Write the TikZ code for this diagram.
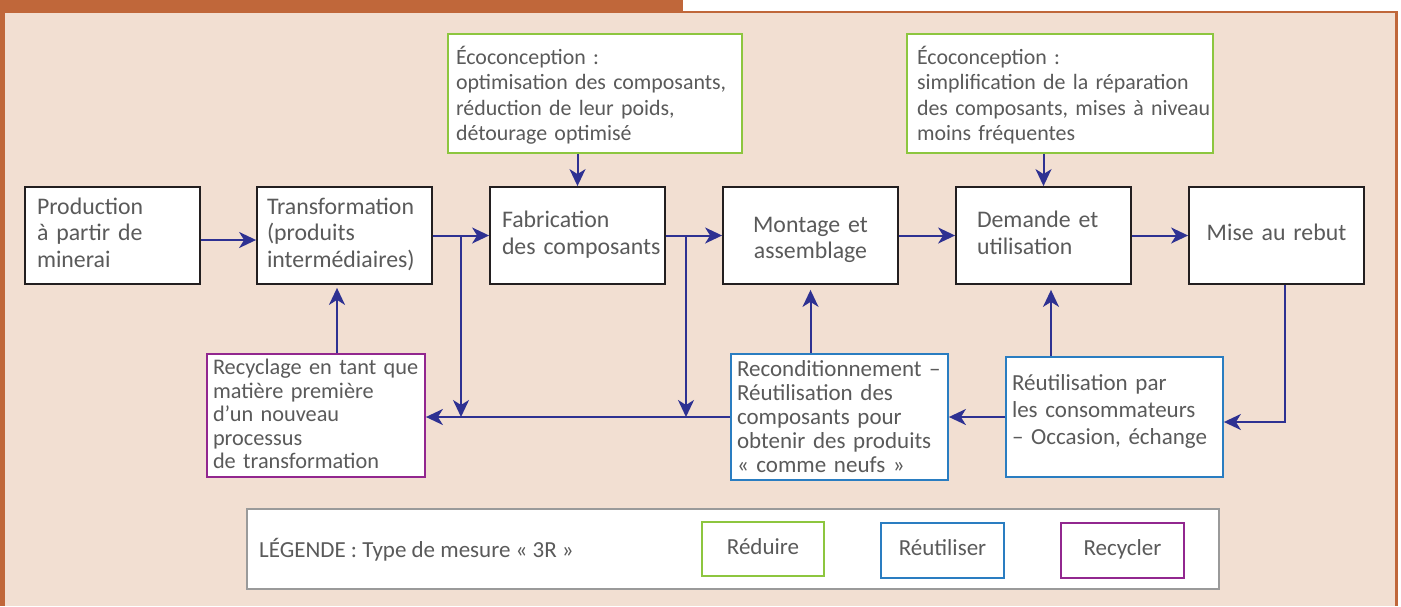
\documentclass[tikz,border=0pt]{standalone}
\usepackage{fontspec}
\setmainfont{Carlito}
\usetikzlibrary{arrows.meta,calc}
\definecolor{peach}{HTML}{F2DFD2}
\definecolor{orangeC}{HTML}{C0673A}
\definecolor{boxk}{HTML}{231F20}
\definecolor{txt}{HTML}{5A5A5A}
\definecolor{arrc}{HTML}{2E3192}
\definecolor{grn}{HTML}{8DC63F}
\definecolor{blu}{HTML}{2A7DC1}
\definecolor{pur}{HTML}{92278F}
\definecolor{legG}{HTML}{9A9A9A}
\newcommand\fT{\fontsize{23.8}{26.5}\selectfont}
\newcommand\fG{\fontsize{21.9}{25.3}\selectfont}
\newcommand\fB{\fontsize{22.3}{23.5}\selectfont}
\newcommand\fR{\fontsize{23}{24}\selectfont}
\newcommand\fU{\fontsize{23}{27}\selectfont}
\newcommand\fL{\fontsize{23}{26.5}\selectfont}
\newcommand\hs[1]{\rule{0pt}{#1}}
\newcommand\ds[1]{\rule[-#1]{0pt}{0pt}}
\begin{document}
\begin{tikzpicture}[x=1pt,y=-1pt,
  execute at begin node={\hyphenpenalty=10000\exhyphenpenalty=10000\hbadness=10000\hfuzz=100pt\relax},
  box/.style={draw=boxk, line width=1.8pt, fill=white, text=txt, inner ysep=0pt, align=left},
  rowbox/.style={box, minimum height=97pt, font=\fT},
  greenbox/.style={box, draw=grn, minimum height=119pt, font=\fG},
  bluebox/.style={box, draw=blu, minimum height=120pt},
  purbox/.style={box, draw=pur, minimum height=123pt, font=\fB},
  lbox/.style={draw, line width=1.3pt, fill=white, text=txt, font=\fL, minimum height=54pt, minimum width=122pt, inner sep=0pt},
  arr/.style={draw=arrc, line width=2pt, -{Stealth[length=17pt,width=16pt,inset=5pt]}}]
\useasboundingbox (0,0) rectangle (1401,606);
% frame
\fill[peach] (0,12) rectangle (1397,606);
\fill[orangeC] (0,0) rectangle (683,12);
\fill[orangeC] (0,11) rectangle (1397.5,13.3);
\fill[orangeC] (0,0) rectangle (4.7,606);
\fill[orangeC] (1395,11) rectangle (1397.5,606);
% main row
\node[rowbox, inner xsep=12pt, text width=151pt] (prod) at (112.5,235.5) {\strut Production\\à partir de\\minerai\strut};
\node[rowbox, inner xsep=10pt, text width=155pt] (trans) at (344.5,235.5) {\strut Transformation\\(produits\\intermédiaires)\strut};
\node[rowbox, inner xsep=12pt, text width=151pt] (fab) at (577.5,235.5) {\strut Fabrication\\des~composants\strut};
\node[rowbox, inner xsep=4pt, text width=167pt, align=center] (mont) at (810.5,235.5) {\hs{27.55pt}Montage et\\assemblage\strut};
\node[rowbox, inner xsep=21pt, text width=133pt] (dem) at (1043.5,235.5) {\strut Demande et\\utilisation\strut};
\node[rowbox, inner xsep=4pt, text width=167pt, align=center] (mise) at (1276.5,235.5) {\strut Mise au rebut\strut};
% green boxes
\node[greenbox, inner xsep=8pt, text width=278pt] (eco1) at (595,93.5) {\hs{25.5pt}Écoconception :\\optimisation~des~composants,\\réduction~de~leur~poids,\\détourage~optimisé\strut};
\node[greenbox, inner xsep=10pt, text width=286pt] (eco2) at (1060,93.5) {\hs{25.5pt}Écoconception~:\\simplification~de~la~réparation\\des~composants,~mises~à~niveau\\moins~fréquentes\strut};
% lower boxes
\node[purbox, inner xsep=6pt, text width=206pt] (recy) at (316,415.5) {\hs{20pt}Recyclage~en~tant~que\\matière~première\\d’un~nouveau\\processus\\de~transformation\strut};
\node[bluebox, font=\fR, inner xsep=6pt, text width=205pt] (recond) at (839.5,417) {\hs{22.8pt}Reconditionnement~–\\Réutilisation~des\\composants~pour\\obtenir~des~produits\\«~comme~neufs~»\strut};
\node[bluebox, font=\fU, inner xsep=6pt, text width=205pt] (reut) at (1114.5,417) {\strut Réutilisation~par\\les~consommateurs\\–~Occasion,~échange\ds{18.9pt}};
% legend
\node[draw=legG, line width=2pt, fill=white, minimum width=972pt, minimum height=80pt, inner sep=0pt] (leg) at (733,549) {};
\node[anchor=base west, text=txt, font=\fL, inner sep=0pt] (legtxt) at (259,557) {LÉGENDE : Type de mesure «~3R~»};
\node[lbox, draw=grn] (lred) at (763,549) {\strut Réduire\strut};
\node[lbox, draw=blu, minimum width=123pt, minimum height=55pt] (lreu) at (942.5,550.5) {\strut Réutiliser\strut};
\node[lbox, draw=pur, minimum width=123pt, minimum height=55pt] (lrec) at (1122.5,550.5) {\strut Recycler\strut};
% connectors
\coordinate (j1) at (461,235.5);
\coordinate (j2) at (686,235.5);
\draw[arr] ([yshift=-4.5pt]prod.east) -- ([yshift=-4.5pt]trans.west);
\draw[arr] (trans.east) -- (fab.west);
\draw[arr] (fab.east) -- (mont.west);
\draw[arr] (mont.east) -- (dem.west);
\draw[arr] (dem.east) -- (mise.west);
\draw[arr] (j1) -- (j1 |- recond.west);
\draw[arr] (j2) -- (j2 |- recond.west);
\draw[arr] (recond.west) -- (recond.west -| recy.east);
\draw[arr] (reut.west) -- (recond.east);
\draw[arr] ([xshift=8.5pt]mise.south) |- ([yshift=-5pt]reut.east);
\draw[arr] (eco1.south -| fab.north) -- (fab.north);
\draw[arr] (eco2.south -| dem.north) -- (dem.north);
\draw[arr, shorten >=3pt] ([xshift=21pt]recy.north) -- ([xshift=21pt]recy.north |- trans.south);
\draw[arr, shorten >=5pt] (recond.north -| mont.south) -- (mont.south);
\draw[arr, shorten >=5pt] ([xshift=7.5pt]dem.south |- reut.north) -- ([xshift=7.5pt]dem.south);
\end{tikzpicture}
\end{document}
